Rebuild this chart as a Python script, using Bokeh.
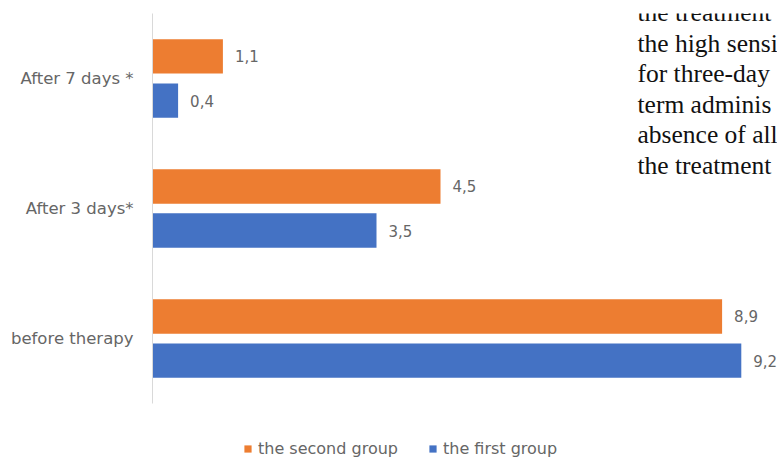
from bokeh.plotting import figure
from bokeh.layouts import column
from bokeh.models import (ColumnDataSource, FactorRange, Range1d, LabelSet, Label,
                          Legend, LegendItem)
from bokeh.transform import dodge
from bokeh.core.properties import value
from bokeh.embed import file_html
from bokeh.resources import INLINE

# ---- data ----
categories = ["before therapy", "After 3 days*", "After 7 days *"]
second_group = [8.9, 4.5, 1.1]
first_group = [9.2, 3.5, 0.4]
series_names = ["the second group", "the first group"]
series_colors = ["#ED7D31", "#4472C4"]
paragraph_lines = ["the treatment", "the high sensi", "for three-day",
                   "term adminis", "absence of all", "the treatment"]

GREY = "#666666"
SANS = "DejaVu Sans"

def fmt(v):
    return f"{v:.1f}".replace(".", ",")

src = ColumnDataSource(dict(
    cat=categories,
    second=second_group,
    first=first_group,
    second_lbl=[fmt(v) for v in second_group],
    first_lbl=[fmt(v) for v in first_group],
))

W = 777
H_CHART, H_LEG = 418, 40
LEFT, TOP, BOTTOM = 152, 13, 15
PX_PER_UNIT = 64.0
frame_w = W - LEFT
frame_h = H_CHART - TOP - BOTTOM
px_per_cat = frame_h / len(categories)

p = figure(width=W, height=H_CHART,
           y_range=FactorRange(factors=categories, range_padding=0),
           x_range=Range1d(0, frame_w / PX_PER_UNIT),
           output_backend="svg", toolbar_location=None,
           min_border_left=LEFT, min_border_right=0,
           min_border_top=TOP, min_border_bottom=BOTTOM)

OFF = 0.17
BAR_H = 0.265
p.hbar(y=dodge("cat", OFF, range=p.y_range), left=0, right="second",
       height=BAR_H, source=src, fill_color=series_colors[0], line_color=None)
p.hbar(y=dodge("cat", -OFF, range=p.y_range), left=0, right="first",
       height=BAR_H, source=src, fill_color=series_colors[1], line_color=None)

for col, lbl, off in (("second", "second_lbl", OFF), ("first", "first_lbl", -OFF)):
    p.add_layout(LabelSet(x=col, y=dodge("cat", off, range=p.y_range), text=lbl,
                          source=src, x_offset=12, text_baseline="middle",
                          text_align="left", text_font=value(SANS),
                          text_font_size="15px", text_color=GREY))

p.xaxis.visible = False
p.grid.visible = False
p.outline_line_color = None
yax = p.yaxis[0]
yax.axis_line_color = "#d9d9d9"
yax.major_tick_line_color = None
yax.minor_tick_line_color = None
yax.major_tick_out = 0
yax.major_tick_in = 0
yax.major_label_standoff = 19
yax.major_label_text_font = SANS
yax.major_label_text_font_size = "16.5px"
yax.major_label_text_color = GREY

# overlapping paragraph text from the page (cut by the screenshot)
para_x = (637 - LEFT) / PX_PER_UNIT
first_baseline = 12
step = 30.6
for i, line in enumerate(paragraph_lines):
    cy = first_baseline + i * step
    y = len(categories) - (cy - TOP) / px_per_cat
    p.add_layout(Label(x=para_x, y=y, text=line, text_font="Liberation Serif",
                       text_font_size="25.5px", text_color="#111111",
                       text_baseline="alphabetic"))

# ---- legend strip below the chart ----
q = figure(width=W, height=H_LEG, x_range=Range1d(0, 1), y_range=Range1d(0, 1),
           output_backend="svg", toolbar_location=None,
           min_border_left=0, min_border_right=0, min_border_top=0,
           min_border_bottom=0)
q.axis.visible = False
q.grid.visible = False
q.outline_line_color = None
items = []
for name, color in zip(series_names, series_colors):
    # legend swatch proxies, placed outside the visible range
    r = q.hbar(y=[-5], right=[0], left=0, height=1, fill_color=color, line_color=None)
    items.append(LegendItem(label=name, renderers=[r]))
legend = Legend(items=items, location=(243 - LEFT, 0), orientation="horizontal",
                glyph_width=9, glyph_height=9, label_standoff=6, spacing=30,
                padding=0, margin=0, border_line_color=None,
                background_fill_alpha=0, label_text_font=SANS,
                label_text_font_size="16px", label_text_color=GREY)
q.add_layout(legend, "center")

open("out.html", "w").write(file_html(column(p, q), INLINE))
